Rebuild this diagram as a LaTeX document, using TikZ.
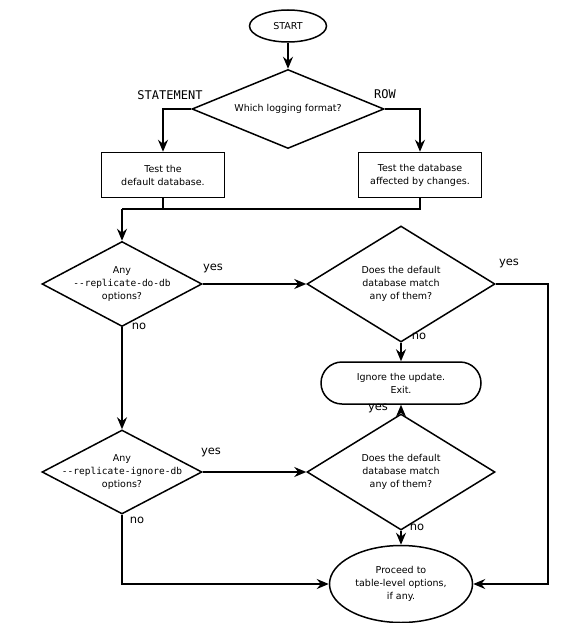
\documentclass[tikz,border=0pt]{standalone}
\usepackage{fontspec}
\setmainfont{DejaVu Sans}
\setmonofont{DejaVu Sans Mono}
\usetikzlibrary{shapes.geometric,arrows.meta}

\begin{document}
\begin{tikzpicture}[x=1pt,y=-1pt,line width=1.5pt,
		>={Stealth[length=12pt,width=10pt,inset=4pt]},
		every node/.style={font=\fontsize{9.5}{13}\selectfont},
		terminal/.style={draw,ellipse,inner sep=0pt,align=center},
		process/.style={draw,rectangle,minimum width=123pt,minimum height=45pt,inner sep=0pt,align=center},
		decision/.style={draw,diamond,inner sep=0pt},
		stopbox/.style={draw,rectangle,rounded corners=21pt,minimum width=160pt,minimum height=42pt,inner sep=0pt,align=center},
		inside/.style={align=center,inner sep=0pt},
		answer/.style={font=\fontsize{11.5}{12}\selectfont,inner sep=0pt},
		format/.style={font=\fontsize{12}{12}\ttfamily,inner sep=0pt}]
	\useasboundingbox (0,0) rectangle (588,623);
	%%%%%%%%%%%%%%%%% nodes %%%%%%%%%%%%%%%%%%%
	\node[terminal,minimum width=77pt,minimum height=32pt] (start) at (288,26) {START};
	\node[decision,minimum width=192pt,minimum height=79pt] (fmt) at (288,109) {};
	\node[inside] (fmt-txt) at (fmt) {Which logging format?};
	\node[process] (stmt) at (163,175) {Test the\\default database.};
	\node[process] (row) at (420,175) {Test the database\\affected by changes.};
	
	% do-db test and its match
	\node[decision,minimum width=160pt,minimum height=85pt] (do) at (122,284) {};
	\node[inside] (do-txt) at (do) {Any\\\texttt{-{}-replicate-do-db}\\options?};
	\node[decision,minimum width=188pt,minimum height=116pt] (domatch) at (401,284) {};
	\node[inside] (domatch-txt) at (domatch) {Does the default\\database match\\any of them?};
	
	\node[stopbox] (ignore) at (401,383) {Ignore the update.\\Exit.};
	
	% ignore-db test and its match
	\node[decision,minimum width=160pt,minimum height=84pt] (ig) at (122,472) {};
	\node[inside] (ig-txt) at (ig) {Any\\\texttt{-{}-replicate-ignore-db}\\options?};
	\node[decision,minimum width=188pt,minimum height=116pt] (igmatch) at (401,472) {};
	\node[inside] (igmatch-txt) at (igmatch) {Does the default\\database match\\any of them?};
	
	\node[terminal,minimum width=143pt,minimum height=77pt] (proceed) at (401,584) {Proceed to\\table-level options,\\if any.};
	
	%%%%%%%%%%%%%%%%% labels %%%%%%%%%%%%%%%%%%%
	\node[format] (stmt-lbl) at (170,95) {STATEMENT};
	\node[format] (row-lbl) at (385,94) {ROW};
	\foreach \px/\py/\txt [count=\n from 1] in
	{213/268/yes,139/326/no,509/263/yes,419/336/no,378/408/yes,211/452/yes,137/520/no,417/527/no}
	{\node[answer] (ans\n) at (\px,\py) {\txt};}
	
	%%%%%%%%%%%%%%%%% edges %%%%%%%%%%%%%%%%%%%%%%%
	\coordinate (merge) at (122,209);
	\draw[->] (start) -- (fmt);
	\draw[->] (fmt.west) -| (stmt);
	\draw[->] (fmt.east) -| (row);
	\draw (stmt.south) |- (merge);
	\draw (row.south) |- (merge);
	\draw[->] (merge) -- (do.north);
	
	\draw[->] (do.east) -- (domatch.west);
	\draw[->] (do.south) -- (ig.north);
	\draw[->] (domatch.south) -- (ignore.north);
	\draw[->] (domatch.east) -- ++(52,0) |- (proceed.east);
	
	\draw[->] (ig.east) -- (igmatch.west);
	\draw[->] (igmatch.north) -- (ignore.south);
	\draw[->] (igmatch.south) -- (proceed.north);
	\draw[->] (ig.south) |- (proceed.west);
\end{tikzpicture}
\end{document}
